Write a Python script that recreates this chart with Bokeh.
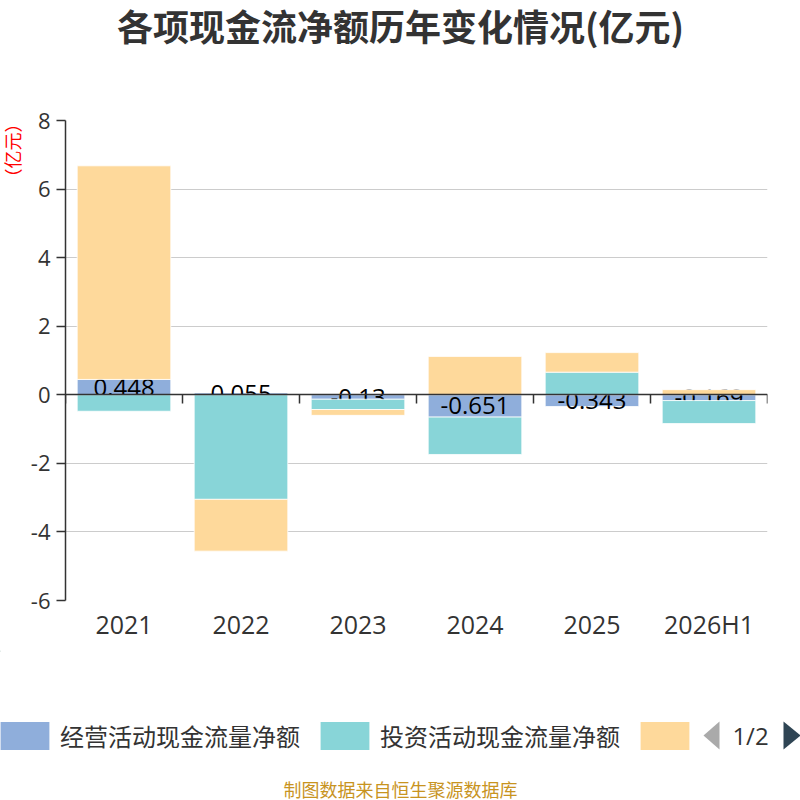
import numpy as np
from bokeh.plotting import figure
from bokeh.layouts import column, row
from bokeh.models import (ColumnDataSource, LinearAxis, FixedTicker, Legend, LegendItem,
                          Range1d, CustomJSTickFormatter)
from bokeh.embed import file_html
from bokeh.resources import INLINE
from bokeh.core.properties import value

# ---------------- data ----------------
categories = ["2021", "2022", "2023", "2024", "2025", "2026H1"]
operating = [0.448, 0.055, -0.13, -0.651, -0.343, -0.169]
investing = [-0.48, -3.05, -0.30, -1.09, 0.66, -0.67]
financing = [6.23, -1.51, -0.17, 1.12, 0.57, 0.15]
series_names = ["经营活动现金流量净额", "投资活动现金流量净额", "筹资活动现金流量净额"]
y_ticks = [-6, -4, -2, 0, 2, 4, 6, 8]
title_text = "各项现金流净额历年变化情况(亿元)"
unit_text = "（亿元）"
source_text = "制图数据来自恒生聚源数据库"
page_text = "1/2"

colors = ["#8faedb", "#88d5d8", "#fed99b"]
CJK = "Noto Sans CJK SC"
NUM = "Open Sans"
W = 800
MAIN_H = 550
SIDE_W = 24

n = len(categories)
xs = np.arange(n)

# stacking like echarts (positives and negatives stacked separately)
pos = np.zeros(n)
neg = np.zeros(n)
stacks = []
for vals in (operating, investing, financing):
    v = np.array(vals, dtype=float)
    bottom = np.where(v >= 0, pos, neg)
    top = bottom + v
    pos = np.where(v >= 0, top, pos)
    neg = np.where(v < 0, top, neg)
    stacks.append((bottom, top))


def blank_fig(w, h):
    f = figure(width=w, height=h, x_range=Range1d(0, w), y_range=Range1d(h, 0),
               output_backend="svg", toolbar_location=None,
               min_border_left=0, min_border_right=0, min_border_top=0, min_border_bottom=0,
               x_axis_type=None, y_axis_type=None, frame_align=False)
    f.outline_line_color = None
    f.xgrid.visible = False
    f.ygrid.visible = False
    return f


# ---------------- title strip ----------------
top_fig = blank_fig(W, 100)
top_fig.text(x=[W / 2], y=[24], text=[title_text], text_align="center", text_baseline="middle",
             text_font=value(CJK), text_font_size="36px", text_font_style="bold",
             text_color="#333333")

# ---------------- unit label strip ----------------
side_fig = blank_fig(SIDE_W, MAIN_H)
side_fig.text(x=[11], y=[50], text=[unit_text], angle=np.pi / 2, text_align="center",
              text_baseline="middle", text_font=value(CJK), text_font_size="18px",
              text_color="red")

# ---------------- main chart ----------------
p = figure(width=W - SIDE_W, height=MAIN_H,
           x_range=Range1d(-0.5, n - 0.5), y_range=Range1d(min(y_ticks), max(y_ticks)),
           output_backend="svg", toolbar_location=None, frame_align=False,
           min_border_left=65 - SIDE_W, min_border_right=33, min_border_top=20,
           min_border_bottom=50)
p.outline_line_color = None

yax = p.yaxis[0]
yax.ticker = FixedTicker(ticks=y_ticks)
yax.major_label_overrides = {t: str(t) for t in y_ticks}
yax.axis_line_color = "#333333"
yax.axis_line_width = 1.5
yax.major_tick_line_color = "#333333"
yax.major_tick_line_width = 1.5
yax.major_tick_out = 9
yax.major_tick_in = 0
yax.minor_tick_line_color = None
yax.major_label_text_font = NUM
yax.major_label_text_font_size = "22px"
yax.major_label_text_color = "#333333"
yax.major_label_standoff = 6

xax = p.xaxis[0]
xax.ticker = FixedTicker(ticks=list(xs))
xax.major_label_overrides = {int(i): c for i, c in zip(xs, categories)}
xax.axis_line_color = None
xax.major_tick_line_color = None
xax.minor_tick_line_color = None
xax.major_label_text_font = NUM
xax.major_label_text_font_size = "25px"
xax.major_label_text_color = "#333333"
xax.major_label_standoff = 0

p.xgrid.visible = False
p.ygrid.ticker = FixedTicker(ticks=y_ticks)
p.ygrid.grid_line_color = "#cccccc"
p.ygrid.grid_line_width = 1.2

for i, (bottom, top) in enumerate(stacks):
    src = ColumnDataSource(dict(x=xs, bottom=bottom, top=top))
    p.vbar(x="x", width=0.8, bottom="bottom", top="top", source=src,
           fill_color=colors[i], line_color="white", line_width=0.8)
    if i == 0:
        lab_src = ColumnDataSource(dict(x=xs, y=(bottom + top) / 2,
                                        t=[f"{v:g}" for v in operating]))
        p.text(x="x", y="y", text="t", source=lab_src, text_align="center",
               text_baseline="middle", text_font=value(NUM), text_font_size="24px",
               text_color="black")

zero_axis = LinearAxis(fixed_location=0,
                       ticker=FixedTicker(ticks=[float(v) - 0.5 for v in range(n + 1)]),
                       formatter=CustomJSTickFormatter(code="return ''"))
zero_axis.axis_line_color = "#333333"
zero_axis.axis_line_width = 1.5
zero_axis.major_tick_line_color = "#333333"
zero_axis.major_tick_line_width = 1.5
zero_axis.major_tick_out = 9
zero_axis.major_tick_in = 0
zero_axis.minor_tick_line_color = None
zero_axis.major_label_text_font_size = "0px"
p.add_layout(zero_axis, "below")

# ---------------- legend + source strip ----------------
bot_fig = blank_fig(W, 150)
legend_rs = []
for i in range(3):
    # off-canvas placeholder renderers: they only provide the legend swatch colours
    legend_rs.append(bot_fig.vbar(x=[-1000], top=[1], bottom=[0], width=1,
                                  fill_color=colors[i], line_color=None))
legend = Legend(items=[LegendItem(label=series_names[0], renderers=[legend_rs[0]]),
                       LegendItem(label=series_names[1], renderers=[legend_rs[1]]),
                       LegendItem(label=" ", renderers=[legend_rs[2]])],
                orientation="horizontal", location=(-6, 47))
legend.glyph_width = 61
legend.glyph_height = 35
legend.label_height = 35
legend.label_standoff = 5
legend.spacing = 14
legend.padding = 0
legend.margin = 0
legend.border_line_color = None
legend.background_fill_alpha = 0
legend.label_text_font = CJK
legend.label_text_font_size = "24px"
legend.label_text_color = "#333333"
bot_fig.add_layout(legend, "center")

bot_fig.patch(x=[703, 719, 719], y=[85, 71, 99], fill_color="#aaaaaa", line_color=None)
bot_fig.patch(x=[783, 800, 783], y=[71, 85, 99], fill_color="#2f4554", line_color=None)
bot_fig.text(x=[750], y=[85], text=[page_text], text_align="center", text_baseline="middle",
             text_font=value(NUM), text_font_size="24px", text_color="#333333")
bot_fig.text(x=[W / 2], y=[138], text=[source_text], text_align="center",
             text_baseline="middle", text_font=value(CJK), text_font_size="18px",
             text_color="#c8941f")

layout = column(top_fig, row(side_fig, p, spacing=0), bot_fig, spacing=0)
open("out.html", "w").write(file_html(layout, INLINE))
